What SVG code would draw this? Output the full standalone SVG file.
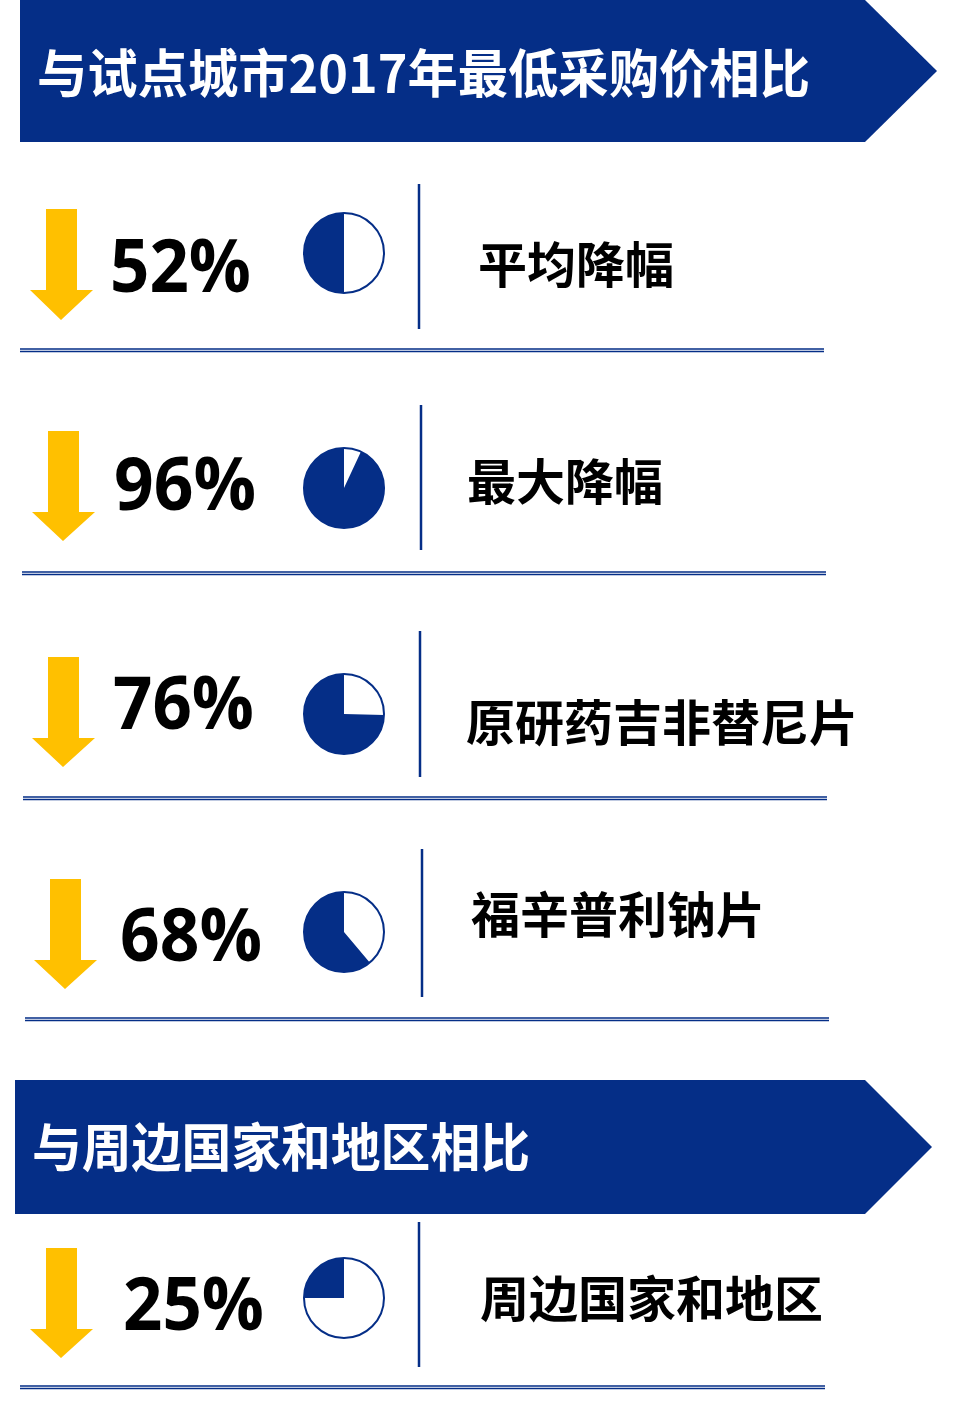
<svg xmlns="http://www.w3.org/2000/svg" width="974" height="1402" viewBox="0 0 974 1402">
<style>
.hd{fill:#052e87}
.hl{fill:#fff;font-family:"Noto Sans CJK SC","Noto Sans",sans-serif;font-weight:bold;font-size:52px}
.pc{fill:#000;font-family:"Open Sans","Liberation Sans",sans-serif;font-weight:bold;font-size:74px}
.lb{fill:#000;font-family:"Noto Sans CJK SC",sans-serif;font-weight:bold;font-size:49px}
.ar{fill:#ffc000}
.pe{fill:#fff;stroke:#052e87;stroke-width:2}
.pf{fill:#052e87}
.vl{stroke:#052e87;stroke-width:2.5}
.hr{stroke:#052e87;stroke-width:1.5;fill:none}
</style>
<g id="header1"><polygon class="hd" points="20,0 865,0 937,71 865,142 20,142"/><text class="hl" x="37" y="93" textLength="773" lengthAdjust="spacingAndGlyphs">与试点城市2017年最低采购价相比</text></g>
<g id="header2"><polygon class="hd" points="15,1080 865,1080 932,1147 865,1214 15,1214"/><text class="hl" x="32" y="1167" textLength="498" lengthAdjust="spacingAndGlyphs">与周边国家和地区相比</text></g>
<g id="row1">
<polygon class="ar" points="46,209 77,209 77,290 93,290 61,320 30,290 46,290"/>
<text class="pc" x="110" y="292" textLength="141" lengthAdjust="spacingAndGlyphs">52%</text>
<circle class="pe" cx="344" cy="253" r="40"/><path class="pf" d="M344,253 L344,213 A40,40 0 0 0 344,293 Z"/>
<text class="lb" x="478" y="283">平均降幅</text>
</g>
<g id="row2">
<polygon class="ar" points="48,431 79,431 79,512 95,512 63,541 32,512 48,512"/>
<text class="pc" x="114" y="510" textLength="142" lengthAdjust="spacingAndGlyphs">96%</text>
<circle class="pe" cx="344" cy="488" r="40"/><path class="pf" d="M344,488 L360.9,451.7 A40,40 0 1 1 344,448 Z"/>
<text class="lb" x="467" y="500">最大降幅</text>
</g>
<g id="row3">
<polygon class="ar" points="48,657 79,657 79,738 95,738 63,767 32,738 48,738"/>
<text class="pc" x="113" y="729" textLength="141" lengthAdjust="spacingAndGlyphs">76%</text>
<circle class="pe" cx="344" cy="714" r="40"/><path class="pf" d="M344,714 L384,715 A40,40 0 1 1 344,674 Z"/>
<text class="lb" x="466" y="741">原研药吉非替尼片</text>
</g>
<g id="row4">
<polygon class="ar" points="50,879 81,879 81,960 97,960 65,989 34,960 50,960"/>
<text class="pc" x="120" y="961" textLength="142" lengthAdjust="spacingAndGlyphs">68%</text>
<circle class="pe" cx="344" cy="932" r="40"/><path class="pf" d="M344,932 L369.7,962.6 A40,40 0 1 1 344,892 Z"/>
<text class="lb" x="471" y="933">福辛普利钠片</text>
</g>
<g id="row5">
<polygon class="ar" points="46,1248 77,1248 77,1329 93,1329 61,1358 30,1329 46,1329"/>
<text class="pc" x="123" y="1330" textLength="141" lengthAdjust="spacingAndGlyphs">25%</text>
<circle class="pe" cx="344" cy="1298" r="40"/><path class="pf" d="M344,1298 L344,1258 A40,40 0 0 0 304,1298 Z"/>
<text class="lb" x="480" y="1317">周边国家和地区</text>
</g>
<g id="connectors">
<line class="vl" x1="419" y1="184" x2="419" y2="329"/>
<line class="vl" x1="421" y1="405" x2="421" y2="550"/>
<line class="vl" x1="420" y1="631" x2="420" y2="777"/>
<line class="vl" x1="422" y1="849" x2="422" y2="997"/>
<line class="vl" x1="419" y1="1222" x2="419" y2="1367"/>
<path class="hr" d="M20,349H824M20,351.5H824M22,572H826M22,574.5H826M23,797H827M23,799.5H827M25,1018H829M25,1020.5H829M20,1386H825M20,1388.5H825"/>
</g>
</svg>
